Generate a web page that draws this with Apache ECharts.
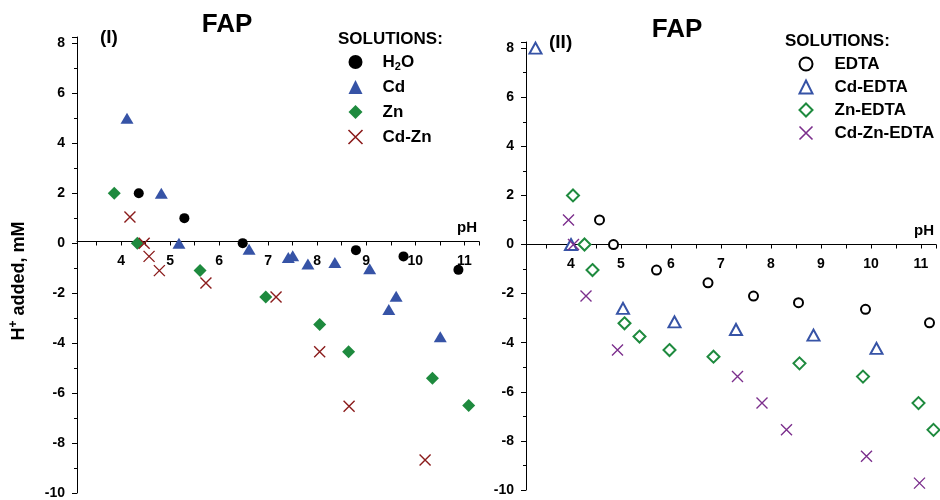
<!DOCTYPE html>
<html>
<head>
<meta charset="utf-8">
<script src="https://cdn.jsdelivr.net/npm/echarts@6/dist/echarts.min.js"></script>
<style>
html,body{margin:0;padding:0;background:#fff;}
#chart{width:940px;height:500px;}
</style>
</head>
<body>
<div id="chart"></div>
<script>
// ---- Panel (I): FAP with metal solutions ----
const h2oPH  = [4.36, 5.29, 6.48, 8.79, 9.76, 10.88];
const h2oH   = [2.0, 1.0, 0.0, -0.28, -0.53, -1.07];
const cdPH   = [4.12, 4.82, 5.18, 6.61, 7.41, 7.50, 7.81, 8.36, 9.07, 9.46, 9.61, 10.51];
const cdH    = [5.0, 2.0, 0.0, -0.24, -0.57, -0.50, -0.83, -0.77, -1.03, -2.66, -2.13, -3.75];
const znPH   = [3.86, 4.33, 5.61, 6.95, 8.05, 8.64, 10.35, 11.09];
const znH    = [2.0, 0.0, -1.10, -2.16, -3.26, -4.35, -5.41, -6.50];
const cdznPH = [4.18, 4.47, 4.57, 4.78, 5.73, 7.16, 8.05, 8.65, 10.20];
const cdznH  = [1.05, 0.0, -0.53, -1.10, -1.60, -2.16, -4.35, -6.53, -8.68];

// ---- Panel (II): FAP with EDTA solutions ----
const edtaPH     = [4.57, 4.85, 5.71, 6.74, 7.65, 8.55, 9.89, 11.17];
const edtaH      = [1.0, 0.0, -1.04, -1.56, -2.10, -2.37, -2.64, -3.19];
const cdEdtaPH   = [3.29, 4.00, 5.04, 6.07, 7.30, 8.85, 10.11];
const cdEdtaH    = [8.0, 0.0, -2.60, -3.15, -3.46, -3.69, -4.23];
const znEdtaPH   = [4.04, 4.27, 4.43, 5.07, 5.37, 5.97, 6.85, 8.57, 9.84, 10.95, 11.25];
const znEdtaH    = [2.0, 0.0, -1.04, -3.21, -3.75, -4.30, -4.57, -4.84, -5.38, -6.46, -7.55];
const cdZnEdtaPH = [3.95, 4.05, 4.30, 4.93, 7.33, 7.82, 8.31, 9.91, 10.97];
const cdZnEdtaH  = [1.0, 0.0, -2.10, -4.30, -5.38, -6.46, -7.55, -8.63, -9.72];

const FONT = '"Liberation Sans", Arial, sans-serif';
const BLUE = '#3653a6', GREEN = '#1e8a3e', DRED = '#8b1c1c', PURPLE = '#7b2e8c';
const CROSS = 'path://M0,0L10,10M10,0L0,10';
const Y_MIN = -10, Y_MAX = 8.25;
const grids = [
  { left: 77, top: 37, width: 402, height: 459 },
  { left: 526, top: 42, width: 410, height: 448 }
];

function pairs(xs, ys) { return xs.map((x, i) => [x, ys[i]]); }

function xAxisCfg(gridIndex) {
  // place the x axis (line, ticks, labels) on the y = 0 level
  const zeroFromBottom = grids[gridIndex].height * (0 - Y_MIN) / (Y_MAX - Y_MIN);
  return {
    gridIndex: gridIndex, type: 'value', min: 3.1, max: 11.3, splitNumber: 8,
    position: 'bottom', offset: -zeroFromBottom,
    name: 'pH', nameLocation: 'end', nameGap: -22,
    nameTextStyle: { fontFamily: FONT, fontWeight: 'bold', fontSize: 15, color: '#000',
                     verticalAlign: 'bottom', padding: [0, 0, 6, 0] },
    axisLine: { onZero: false, lineStyle: { color: '#000', width: 1 } },
    axisTick: { show: true, length: 4, lineStyle: { color: '#000' } },
    minorTick: { show: true, splitNumber: 2, length: 4, lineStyle: { color: '#000' } },
    splitLine: { show: false },
    axisLabel: { fontFamily: FONT, fontWeight: 'bold', fontSize: 14, color: '#000', margin: 13,
                 showMinLabel: false, showMaxLabel: false }
  };
}
function yAxisCfg(gridIndex) {
  return {
    gridIndex: gridIndex, type: 'value', min: Y_MIN, max: Y_MAX, interval: 2,
    axisLine: { show: true, onZero: false, lineStyle: { color: '#000', width: 1 } },
    axisTick: { show: true, length: 5, lineStyle: { color: '#000' } },
    minorTick: { show: true, splitNumber: 2, length: 3, lineStyle: { color: '#000' } },
    splitLine: { show: false },
    axisLabel: { fontFamily: FONT, fontWeight: 'bold', fontSize: 14, color: '#000', margin: 12,
                 showMaxLabel: false }
  };
}

const legendText = {
  fontFamily: FONT, fontWeight: 'bold', fontSize: 17, color: '#000', lineHeight: 20,
  rich: {
    n: { fontFamily: FONT, fontWeight: 'bold', fontSize: 17, color: '#000', lineHeight: 20 },
    s: { fontFamily: FONT, fontWeight: 'bold', fontSize: 11, color: '#000', lineHeight: 11, verticalAlign: 'bottom' }
  }
};

const chart = echarts.init(document.getElementById('chart'), null, { renderer: 'canvas' });
chart.setOption({
  animation: false,
  backgroundColor: '#fff',
  grid: grids,
  xAxis: [xAxisCfg(0), xAxisCfg(1)],
  yAxis: [yAxisCfg(0), yAxisCfg(1)],
  legend: [
    {
      orient: 'vertical', left: 346, top: 52, padding: 0, itemGap: 5,
      itemWidth: 14, itemHeight: 14, selectedMode: false,
      data: [
        { name: 'H2O' }, { name: 'Cd' }, { name: 'Zn' },
        { name: 'Cd-Zn', itemStyle: { borderColor: DRED, borderWidth: 1.6 } }
      ],
      formatter: function (n) { return n === 'H2O' ? '{n|H}{s|2}{n|O}' : n; },
      textStyle: Object.assign({ padding: [0, 0, 0, 15] }, legendText)
    },
    {
      orient: 'vertical', left: 797, top: 54, padding: 0, itemGap: 3,
      itemWidth: 13, itemHeight: 13, selectedMode: false,
      data: [
        { name: 'EDTA', itemStyle: { borderColor: '#000', borderWidth: 1.5 } },
        { name: 'Cd-EDTA', itemStyle: { borderColor: BLUE, borderWidth: 1.5 } },
        { name: 'Zn-EDTA', itemStyle: { borderColor: GREEN, borderWidth: 1.5 } },
        { name: 'Cd-Zn-EDTA', itemStyle: { borderColor: PURPLE, borderWidth: 1.6 } }
      ],
      textStyle: Object.assign({ padding: [0, 0, 0, 17] }, legendText)
    }
  ],
  graphic: [
    { type: 'text', x: 227, y: 25, style: { text: 'FAP', fontFamily: FONT, fontWeight: 'bold', fontSize: 26, fill: '#000', align: 'center', verticalAlign: 'middle' } },
    { type: 'text', x: 677, y: 30, style: { text: 'FAP', fontFamily: FONT, fontWeight: 'bold', fontSize: 26, fill: '#000', align: 'center', verticalAlign: 'middle' } },
    { type: 'text', x: 100, y: 38, style: { text: '(I)', fontFamily: FONT, fontWeight: 'bold', fontSize: 19, fill: '#000', align: 'left', verticalAlign: 'middle' } },
    { type: 'text', x: 549, y: 43, style: { text: '(II)', fontFamily: FONT, fontWeight: 'bold', fontSize: 19, fill: '#000', align: 'left', verticalAlign: 'middle' } },
    { type: 'text', x: 338, y: 39, style: { text: 'SOLUTIONS:', fontFamily: FONT, fontWeight: 'bold', fontSize: 17, fill: '#000', align: 'left', verticalAlign: 'middle' } },
    { type: 'text', x: 785, y: 41, style: { text: 'SOLUTIONS:', fontFamily: FONT, fontWeight: 'bold', fontSize: 17, fill: '#000', align: 'left', verticalAlign: 'middle' } },
    { type: 'text', x: 19, y: 281, rotation: Math.PI / 2,
      style: { text: '{n|H}{p|+}{n| added, mM}', align: 'center', verticalAlign: 'middle',
        rich: {
          n: { fontFamily: FONT, fontWeight: 'bold', fontSize: 18, fill: '#000', lineHeight: 22 },
          p: { fontFamily: FONT, fontWeight: 'bold', fontSize: 12, fill: '#000', lineHeight: 12, verticalAlign: 'top' }
        } } }
  ],
  series: [
    { name: 'H2O', type: 'scatter', xAxisIndex: 0, yAxisIndex: 0, clip: false,
      symbol: 'circle', symbolSize: 10, itemStyle: { color: '#000', opacity: 1 }, data: pairs(h2oPH, h2oH) },
    { name: 'Cd', type: 'scatter', xAxisIndex: 0, yAxisIndex: 0, clip: false,
      symbol: 'triangle', symbolSize: [13, 11], itemStyle: { color: BLUE, opacity: 1 }, data: pairs(cdPH, cdH) },
    { name: 'Zn', type: 'scatter', xAxisIndex: 0, yAxisIndex: 0, clip: false,
      symbol: 'diamond', symbolSize: 13, itemStyle: { color: GREEN, opacity: 1 }, data: pairs(znPH, znH) },
    { name: 'Cd-Zn', type: 'scatter', xAxisIndex: 0, yAxisIndex: 0, clip: false,
      symbol: CROSS, symbolSize: 11, itemStyle: { color: 'none', borderColor: DRED, borderWidth: 1.4, opacity: 1 }, data: pairs(cdznPH, cdznH) },

    { name: 'EDTA', type: 'scatter', xAxisIndex: 1, yAxisIndex: 1, clip: false,
      symbol: 'emptyCircle', symbolSize: 9, itemStyle: { color: '#000', borderColor: '#000', borderWidth: 1.3, opacity: 1 }, data: pairs(edtaPH, edtaH) },
    { name: 'Cd-EDTA', type: 'scatter', xAxisIndex: 1, yAxisIndex: 1, clip: false,
      symbol: 'emptyTriangle', symbolSize: [12, 11], itemStyle: { color: BLUE, borderColor: BLUE, borderWidth: 1.3, opacity: 1 }, data: pairs(cdEdtaPH, cdEdtaH) },
    { name: 'Zn-EDTA', type: 'scatter', xAxisIndex: 1, yAxisIndex: 1, clip: false,
      symbol: 'emptyDiamond', symbolSize: 12, itemStyle: { color: GREEN, borderColor: GREEN, borderWidth: 1.3, opacity: 1 }, data: pairs(znEdtaPH, znEdtaH) },
    { name: 'Cd-Zn-EDTA', type: 'scatter', xAxisIndex: 1, yAxisIndex: 1, clip: false,
      symbol: CROSS, symbolSize: 11, itemStyle: { color: 'none', borderColor: PURPLE, borderWidth: 1.4, opacity: 1 }, data: pairs(cdZnEdtaPH, cdZnEdtaH) }
  ]
});
</script>
</body>
</html>
